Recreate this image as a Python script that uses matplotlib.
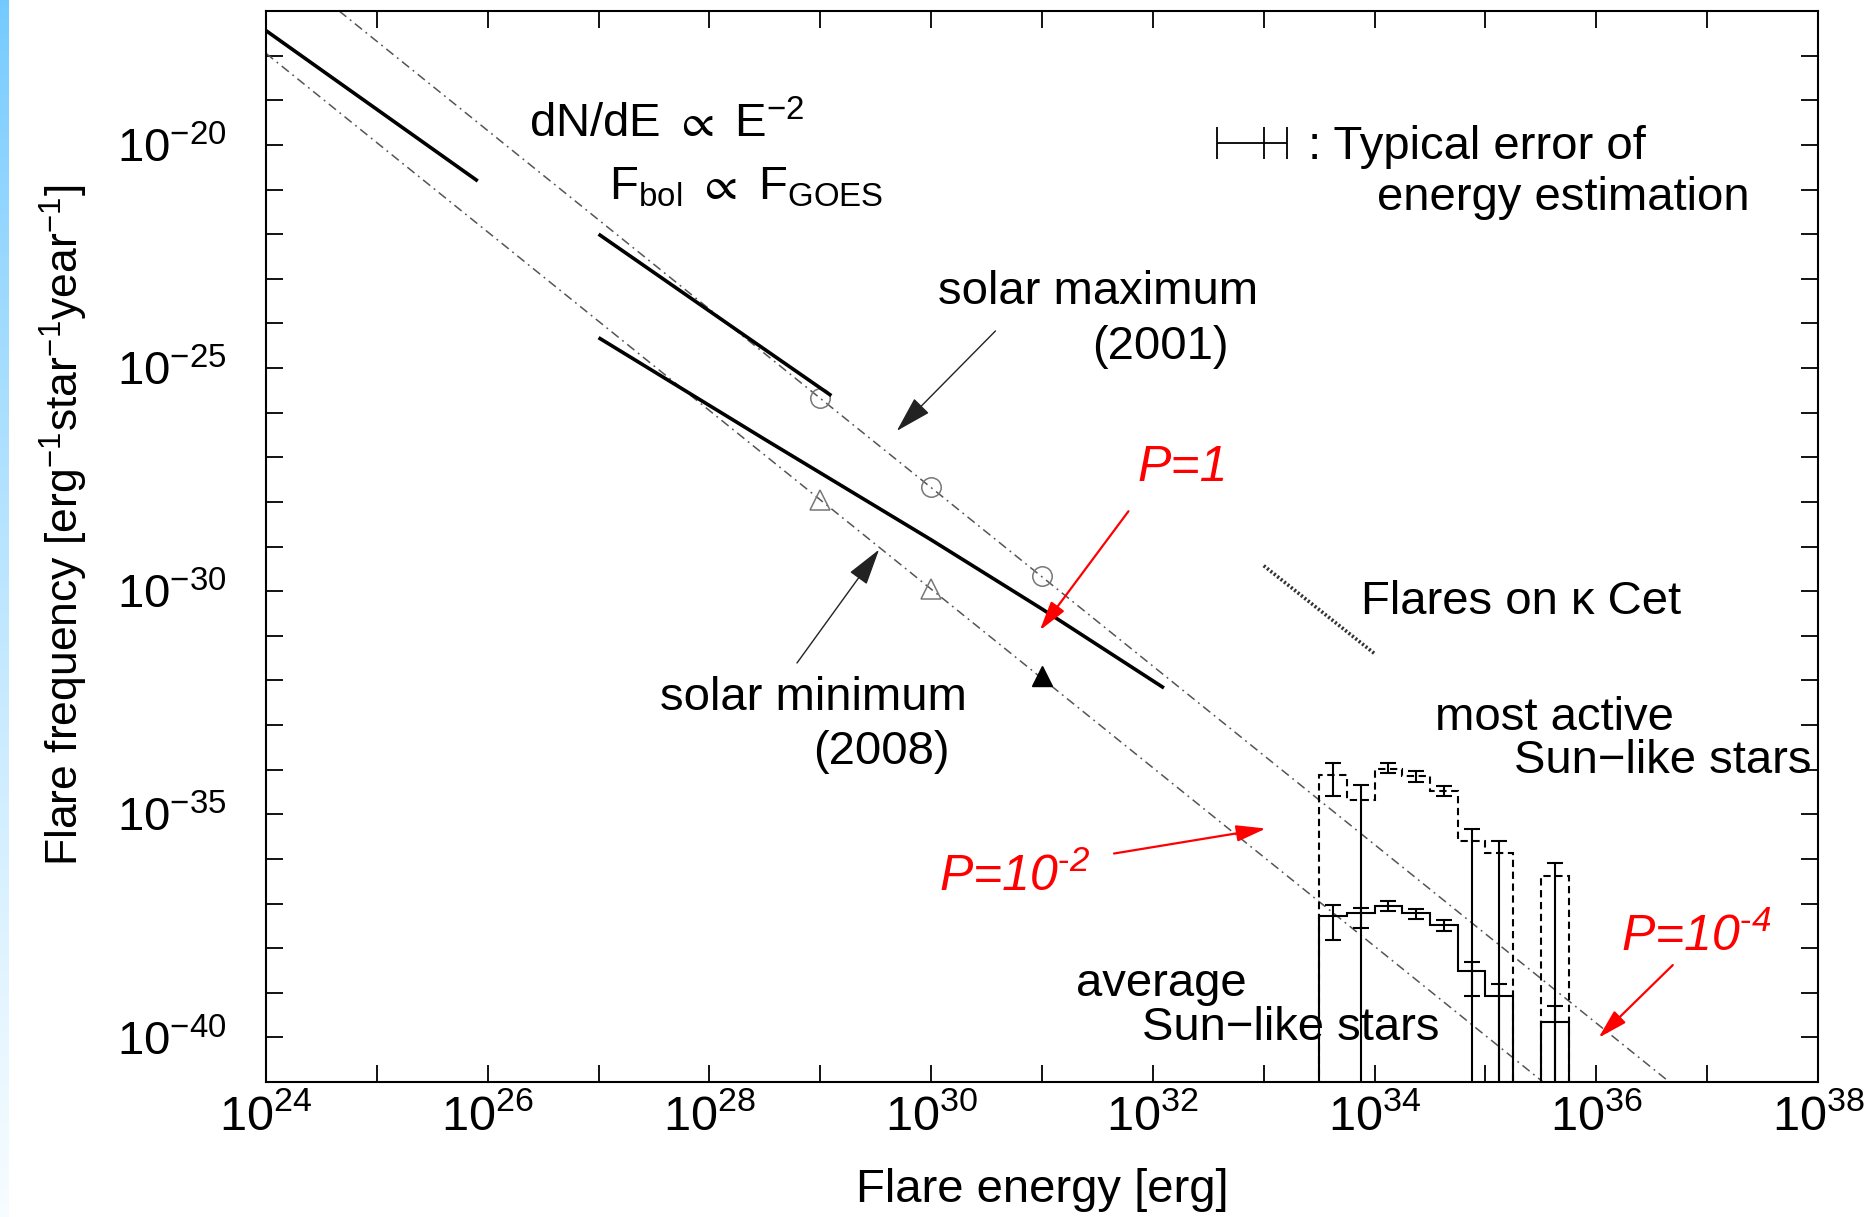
import numpy as np
import matplotlib
matplotlib.use('Agg')
import matplotlib.pyplot as plt

plt.rcParams['font.family'] = ['Liberation Sans', 'DejaVu Sans']
plt.rcParams['mathtext.fontset'] = 'custom'
plt.rcParams['mathtext.rm'] = 'Liberation Sans'
plt.rcParams['mathtext.it'] = 'Liberation Sans:italic'
plt.rcParams['mathtext.bf'] = 'Liberation Sans:bold'
plt.rcParams['mathtext.default'] = 'regular'
plt.rcParams['mathtext.fallback'] = 'stixsans'

# everything below is log10: energy [erg], frequency [erg^-1 star^-1 year^-1]
nano_E = [24.0, 25.91]
nano_F = [-17.44, -20.81]
solmax_E = [27.0, 29.1]
solmax_F = [-22.0, -25.62]
solmin_E = [27.0, 28.5, 30.0, 31.0, 32.1]
solmin_F = [-24.32, -26.6, -28.85, -30.4, -32.17]

# dN/dE ~ E^-2 guide lines
upper_E = [24.66, 36.66]
upper_F = [-17.0, -41.0]
lower_E = [24.0, 35.52]
lower_F = [-17.95, -41.0]

circ_E = [29, 30, 31]
circ_F = [-25.67, -27.67, -29.67]
tri_E = [29, 30]
tri_F = [-27.95, -29.95]
tri_fill_E = [31]
tri_fill_F = [-31.9]

kcet_E = [33.0, 34.0]
kcet_F = [-29.43, -31.4]

# superflare histograms (nan = empty bin), error bar ends (None = down to zero)
bin_edges = [33.5, 33.75, 34.0, 34.25, 34.5, 34.75, 35.0, 35.25, 35.5, 35.75]
active_F = [-34.13, -34.68, -33.98, -34.15, -34.48, -35.61, -35.87, np.nan, -36.38]
active_hi = [-33.85, -34.34, -33.86, -34.04, -34.37, -35.33, -35.61, np.nan, -36.10]
active_lo = [-34.60, None, -34.08, -34.27, -34.60, None, None, np.nan, None]
avg_F = [-37.28, -37.22, -37.05, -37.22, -37.48, -38.52, -39.07, np.nan, -39.65]
avg_hi = [-37.03, -37.11, -36.94, -37.12, -37.38, -38.30, -38.80, np.nan, -39.29]
avg_lo = [-37.82, -37.55, -37.16, -37.35, -37.62, -39.08, None, np.nan, None]

# typical energy error bar
err_E, err_F = 33.0, -19.96
err_left, err_right = 32.58, 33.21


def p(v):
    return 10.0 ** np.asarray(v, dtype=float)


def lin(vals):
    return np.array([0.0 if (v is None or np.isnan(v)) else 10.0 ** v for v in vals])


fig = plt.figure(figsize=(18.64, 12.17), dpi=100)
ax = fig.add_axes([266 / 1864, 1 - 1082 / 1217, 1552 / 1864, 1071 / 1217])
ax.set_xscale('log')
ax.set_yscale('log')

gray = '#555555'
ax.plot(p(upper_E), p(upper_F), color=gray, lw=1.1, dashes=(6, 3, 1.2, 3))
ax.plot(p(lower_E), p(lower_F), color=gray, lw=1.1, dashes=(6, 3, 1.2, 3))
ax.plot(p(circ_E), p(circ_F), 'o', ms=14, mfc='none', mec='#777777', mew=1.1)
ax.plot(p(tri_E), p(tri_F), '^', ms=14, mfc='none', mec='#777777', mew=1.1)
ax.plot(p(tri_fill_E), p(tri_fill_F), '^', ms=15, color='k')

for xs, ys in [(nano_E, nano_F), (solmax_E, solmax_F), (solmin_E, solmin_F)]:
    ax.plot(p(xs), p(ys), color='k', lw=2.6, solid_capstyle='butt')

ax.plot(p(kcet_E), p(kcet_F), color='#333333', lw=2.6, dashes=(0.6, 0.6))

# histograms
edges = p(bin_edges)
centers = p((np.array(bin_edges[:-1]) + np.array(bin_edges[1:])) / 2)
ax.stairs(lin(active_F), edges, baseline=0, color='k', lw=1.5,
          linestyle=(0, (3.5, 2.2)), zorder=3)
ax.stairs(lin(avg_F), edges, baseline=0, color='k', lw=1.5, zorder=4)

for vals, hi, lo in [(active_F, active_hi, active_lo), (avg_F, avg_hi, avg_lo)]:
    v = lin(vals)
    h = lin(hi)
    l = lin(lo)
    ok = v > 0
    ax.errorbar(centers[ok], v[ok], yerr=[v[ok] - l[ok], h[ok] - v[ok]],
                fmt='none', ecolor='k', elinewidth=1.5, capsize=6,
                capthick=1.5, zorder=5)

# typical error symbol
ax.errorbar([p(err_E)], [p(err_F)],
            xerr=[[p(err_E) - p(err_left)], [p(err_right) - p(err_E)]],
            fmt='none', ecolor='k', elinewidth=1.3, capsize=11.5, capthick=1.3)
ax.plot([p(err_E)], [p(err_F)], marker='|', ms=23, mew=1.3, color='k')

ax.set_xlim(1e24, 1e38)
ax.set_ylim(1e-41, 1e-17)

xdec = list(range(24, 39))
ydec = list(range(-41, -16))
ax.set_xticks(p(xdec))
ax.set_xticklabels([r'$10^{%d}$' % k if k % 2 == 0 else '' for k in xdec],
                   fontsize=35)
ax.set_yticks(p(ydec))
ax.set_yticklabels([r'$10^{%d}$' % k if k % 5 == 0 else '' for k in ydec],
                   fontsize=34)
ax.minorticks_off()
ax.tick_params(which='both', direction='in', length=12, width=1.3,
               top=True, right=True)
ax.tick_params(axis='x', pad=9)
ax.tick_params(axis='y', pad=28)
for s in ax.spines.values():
    s.set_linewidth(1.5)

ax.set_xlabel('Flare energy [erg]', fontsize=34, labelpad=20)
ax.set_ylabel(r'Flare frequency [erg$^{-1}$star$^{-1}$year$^{-1}$]',
              fontsize=32, labelpad=20)
ax.yaxis.label.set_y(0.52)

fs = 34


def txt(le, lf, s, ha='center', **kw):
    ax.text(p(le), p(lf), s, ha=ha, va='baseline', fontsize=kw.pop('size', fs), **kw)


txt(26.37, -19.84, r'dN/dE $\propto$ E$^{-2}$', ha='left')
txt(27.09, -21.23, r'F$_{bol}$ $\propto$ F$_{GOES}$', ha='left')
txt(33.40, -20.32, ': Typical error of', ha='left')
txt(34.02, -21.47, 'energy estimation', ha='left')
txt(31.51, -23.57, 'solar maximum')
txt(32.07, -24.80, '(2001)')
txt(28.94, -32.66, 'solar minimum')
txt(29.55, -33.88, '(2008)')
txt(35.32, -30.52, 'Flares on \u03ba Cet')
txt(35.62, -33.11, 'most active')
txt(36.60, -34.07, 'Sun\u2212like stars')
txt(32.08, -39.07, 'average')
txt(33.24, -40.06, 'Sun\u2212like stars')

red = '#ff0000'
txt(31.86, -27.54, 'P=1', ha='left', color=red, style='italic', size=36)
txt(30.07, -36.73, r'P=10$^{\text{-}2}$', ha='left', color=red, style='italic', size=36)
txt(36.22, -38.06, r'P=10$^{\text{-}4}$', ha='left', color=red, style='italic', size=36)


def arrow(start, tip, color, lw, hl, hw):
    ax.annotate('', xy=p(tip), xytext=p(start),
                arrowprops=dict(arrowstyle='-|>,head_length=%g,head_width=%g' % (hl, hw),
                                color=color, lw=lw, shrinkA=0, shrinkB=0,
                                mutation_scale=20))


arrow((30.58, -24.17), (29.69, -26.41), '#222222', 1.0, 1.15, 0.33)
arrow((28.79, -31.61), (29.53, -29.07), '#222222', 1.0, 1.15, 0.33)
arrow((31.78, -28.21), (30.98, -30.88), red, 1.6, 0.9, 0.25)
arrow((31.65, -35.88), (33.02, -35.32), red, 1.6, 0.9, 0.25)
arrow((36.69, -38.38), (36.02, -40.01), red, 1.6, 0.9, 0.25)

# light blue slide edge
edge = fig.add_axes([0, 0, 9 / 1864, 1])
grad = np.linspace(0, 1, 256)[:, None]
top = np.array([0.45, 0.79, 1.0])
bot = np.array([0.97, 0.99, 1.0])
edge.imshow(top + (bot - top) * grad[..., None] ** 0.8, aspect='auto')
edge.axis('off')

fig.savefig('out.png', dpi=100)
